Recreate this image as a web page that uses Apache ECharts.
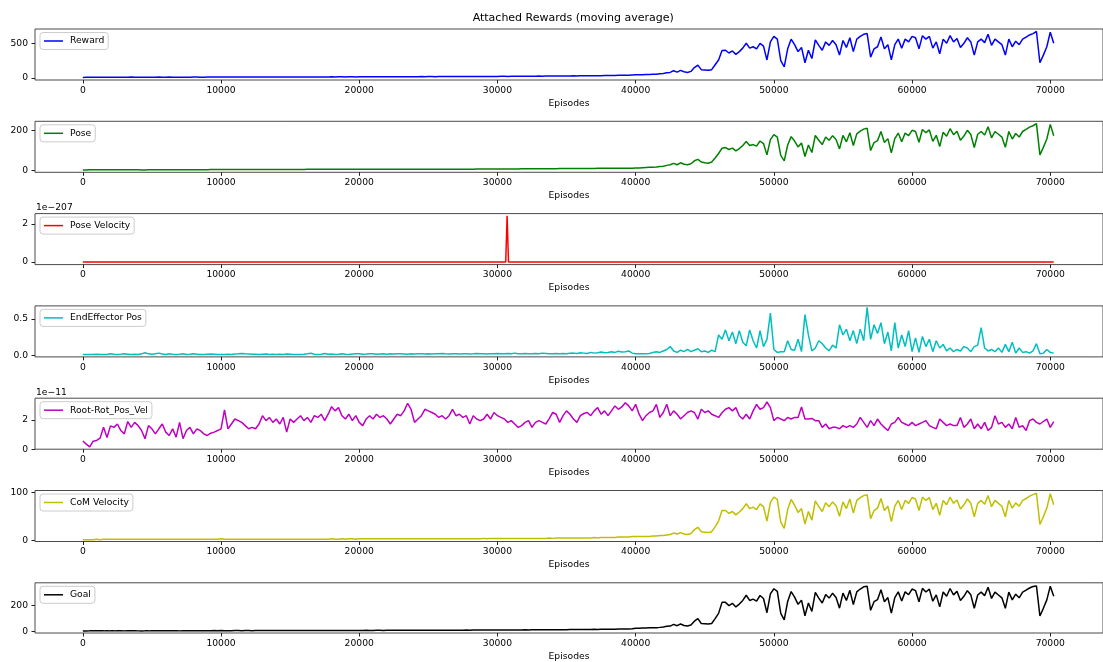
<!DOCTYPE html>
<html>
<head>
<meta charset="utf-8">
<title>Attached Rewards (moving average)</title>
<script src="https://cdn.jsdelivr.net/npm/echarts@6/dist/echarts.min.js"></script>
<style>
  html, body { margin: 0; padding: 0; background: #ffffff; }
  #chart { width: 1103px; height: 662px; }
</style>
</head>
<body>
<div id="chart"></div>
<script>
// Moving-average reward terms, sampled every EPISODE_STEP episodes.
const EPISODE_STEP = 250;
const TITLE = 'Attached Rewards (moving average)';
const X_LABEL = 'Episodes';
const X_TICKS = [0, 10000, 20000, 30000, 40000, 50000, 60000, 70000];

const rewardValues = [
  8, 9, 10, 10, 11, 10, 11, 12, 11, 11,
  12, 12, 11, 12, 13, 12, 11, 9, 10, 11,
  12, 12, 13, 12, 12, 13, 12, 12, 11, 12,
  12, 12, 13, 13, 12, 12, 13, 13, 14, 13,
  15, 13, 13, 13, 14, 14, 13, 14, 14, 13,
  14, 14, 15, 14, 14, 15, 15, 14, 15, 15,
  15, 15, 14, 15, 15, 16, 15, 14, 15, 16,
  16, 16, 17, 16, 17, 17, 16, 17, 17, 16,
  17, 17, 18, 17, 17, 18, 18, 17, 18, 18,
  18, 18, 19, 19, 18, 19, 19, 19, 20, 19,
  20, 20, 19, 20, 20, 21, 20, 21, 21, 21,
  21, 22, 21, 22, 22, 22, 23, 22, 23, 23,
  23, 24, 24, 23, 24, 25, 24, 25, 26, 25,
  26, 26, 27, 26, 27, 28, 27, 28, 29, 29,
  29, 30, 31, 30, 31, 32, 33, 33, 34, 33,
  34, 35, 36, 37, 36, 38, 39, 40, 41, 43,
  45, 45, 48, 50, 52, 55, 55, 60, 65, 75,
  80, 105, 85, 110, 90, 80, 95, 150, 185, 120,
  115, 110, 120, 190, 260, 395, 400, 360, 390, 340,
  380, 430, 500, 430, 450, 420, 500, 460, 260, 520,
  600, 560, 250, 160, 420, 560, 480, 380, 440, 220,
  400, 280, 550, 470, 400, 520, 470, 540, 480, 330,
  540, 440, 580, 380, 560, 600, 630, 640, 300, 420,
  450, 590, 420, 480, 260, 480, 560, 430, 560, 520,
  600, 580, 420, 610, 560, 600, 430, 520, 350, 560,
  500, 610, 520, 570, 440, 500, 580, 520, 330, 520,
  560, 510, 630, 470, 560, 520, 480, 330, 560, 450,
  530, 480, 560, 590, 620, 640, 670, 220, 330, 450,
  660, 500
];

const poseValues = [
  2, 2, 3, 3, 3, 3, 3, 3, 3, 3,
  3, 3, 3, 3, 3, 3, 3, 2, 2, 3,
  3, 3, 3, 3, 3, 3, 3, 3, 3, 3,
  3, 3, 3, 3, 3, 3, 3, 4, 4, 4,
  4, 4, 4, 4, 4, 4, 4, 4, 4, 4,
  4, 4, 4, 4, 4, 4, 4, 4, 4, 4,
  4, 4, 4, 4, 4, 5, 5, 5, 5, 5,
  5, 5, 5, 5, 5, 5, 5, 5, 5, 5,
  5, 5, 5, 5, 5, 5, 5, 5, 5, 5,
  5, 5, 5, 6, 6, 6, 6, 6, 6, 6,
  6, 6, 6, 6, 6, 6, 6, 6, 6, 6,
  6, 6, 6, 6, 7, 7, 7, 7, 7, 7,
  7, 7, 7, 7, 7, 7, 7, 8, 8, 8,
  8, 8, 8, 8, 8, 8, 8, 8, 9, 9,
  9, 9, 9, 9, 9, 9, 9, 9, 9, 10,
  10, 10, 10, 10, 10, 11, 11, 11, 11, 11,
  12, 12, 13, 14, 15, 16, 17, 19, 21, 25,
  28, 35, 28, 38, 31, 28, 33, 48, 55, 42,
  38, 36, 42, 62, 85, 112, 115, 105, 112, 98,
  110, 125, 145, 125, 130, 122, 148, 135, 78, 155,
  180, 168, 75, 48, 128, 170, 148, 118, 138, 70,
  128, 90, 176, 152, 130, 168, 152, 175, 156, 108,
  176, 144, 190, 125, 184, 198, 208, 212, 100, 140,
  150, 196, 140, 160, 88, 160, 188, 144, 188, 175,
  202, 196, 142, 206, 190, 204, 146, 177, 120, 192,
  172, 210, 180, 197, 152, 173, 202, 181, 115, 182,
  196, 178, 220, 164, 196, 182, 168, 116, 196, 158,
  186, 168, 196, 207, 218, 225, 236, 78, 116, 158,
  232, 175
];

// Pose velocity is shown in units of 1e-207 (the axis offset text).
const POSE_VELOCITY_SCALE = '1e\u2212207';
const poseVelocityEpisodes = [0, 30600, 30700, 30800, 70250];
const poseVelocityValues = [0, 0, 2.43, 0, 0];

const endEffectorValues = [
  .01, .01, .012, .01, .015, .01, .012, .01, .02, .015,
  .012, .015, .02, .015, .01, .015, .012, .02, .035, .02,
  .015, .02, .03, .018, .012, .02, .015, .012, .015, .02,
  .012, .015, .02, .015, .01, .012, .015, .018, .015, .01,
  .012, .01, .015, .012, .018, .02, .025, .02, .018, .015,
  .015, .012, .015, .018, .012, .015, .01, .015, .012, .018,
  .015, .012, .01, .012, .015, .02, .028, .015, .012, .015,
  .025, .015, .018, .012, .015, .02, .015, .012, .018, .02,
  .02, .015, .018, .022, .02, .015, .018, .02, .015, .02,
  .018, .022, .02, .018, .015, .02, .018, .022, .02, .018,
  .02, .018, .022, .02, .025, .02, .018, .022, .02, .018,
  .02, .022, .018, .02, .025, .022, .02, .018, .022, .02,
  .025, .02, .022, .025, .02, .03, .022, .02, .025, .022,
  .02, .025, .022, .03, .025, .02, .022, .025, .02, .025,
  .022, .028, .03, .025, .035, .03, .025, .04, .03, .035,
  .045, .035, .04, .05, .04, .055, .045, .05, .06, .03,
  .02, .02, .02, .02, .025, .04, .05, .04, .06, .08,
  .12, .06, .04, .07, .05, .08, .05, .07, .09, .05,
  .06, .04, .07, .05, .28, .22, .35, .2, .32, .16,
  .34, .18, .13, .35, .2, .1, .34, .12, .22, .58,
  .08, .04, .05, .05, .2, .08, .07, .22, .05, .56,
  .28, .06, .1, .2, .16, .1, .06, .14, .1, .42,
  .28, .36, .2, .34, .16, .36, .2, .66, .22, .42,
  .3, .45, .16, .32, .06, .45, .1, .28, .12, .34,
  .05, .24, .04, .26, .12, .22, .05, .2, .1, .15,
  .06, .1, .05, .08, .06, .12, .1, .05, .12, .14,
  .38, .1, .06, .08, .05, .1, .04, .15, .05, .18,
  .03, .1, .04, .05, .03, .06, .16, .02, .03, .08,
  .04, .03
];

// Root/rotation/position/velocity term, in units of 1e-11.
const ROOT_SCALE = '1e\u221211';
const rootRotPosVelValues = [
  0.56, 0.35, 0.16, 0.55, 0.6, 0.76, 1.5, 0.8, 1.6, 1.5,
  1.73, 1.28, 1.05, 1.9, 1.5, 1.84, 1.62, 1.28, 0.72, 1.62,
  1.4, 1.05, 1.4, 1.73, 1.17, 0.94, 1.4, 0.83, 1.84, 0.72,
  1.28, 1.5, 1.05, 1.4, 1.28, 1.05, 0.94, 1.1, 1.17, 1.28,
  1.4, 2.7, 1.4, 1.73, 2.07, 1.96, 1.84, 1.62, 1.4, 1.5,
  1.4, 1.73, 2.3, 1.96, 2.18, 1.84, 2.07, 1.73, 2.18, 1.17,
  2.07, 1.84, 2.07, 2.3, 1.96, 2.18, 1.84, 2.3, 2.18, 2.4,
  1.96, 2.4, 2.92, 2.63, 2.85, 2.3, 2.07, 2.4, 1.96, 2.3,
  1.84, 1.62, 2.07, 2.3, 2.07, 2.4, 2.18, 2.3, 2.07, 1.73,
  2.07, 2.4, 2.3, 2.63, 3.15, 2.74, 1.84, 2.07, 2.3, 2.74,
  2.63, 2.52, 2.4, 2.18, 2.3, 2.07, 2.3, 2.74, 2.3, 2.4,
  2.18, 2.3, 1.73, 2.3, 2.07, 1.96, 2.07, 2.4, 2.07, 2.52,
  2.3, 2.18, 2.07, 1.84, 1.96, 1.73, 1.5, 1.62, 1.84, 1.96,
  1.5, 1.84, 1.96, 1.84, 1.73, 2.1, 2.52, 2.4, 1.84, 2.3,
  2.63, 2.4, 2.07, 1.84, 2.3, 2.45, 2.52, 2.3, 2.63, 2.85,
  2.4, 2.63, 2.3, 2.63, 2.97, 2.74, 2.9, 3.19, 2.97, 2.63,
  3.08, 2.4, 1.96, 2.3, 2.52, 2.63, 3.08, 2.18, 2.52, 3.08,
  2.3, 2.63, 2.4, 2.07, 2.3, 2.52, 2.63, 2.52, 2.07, 2.74,
  2.52, 2.63, 2.4, 2.3, 2.18, 2.5, 2.74, 2.85, 2.63, 2.85,
  2.3, 2.07, 2.4, 2.07, 2.63, 3.08, 2.74, 2.85, 3.24, 2.85,
  1.96, 2.18, 2.07, 1.96, 2.18, 2.07, 2.18, 2.18, 2.9, 2.07,
  2.07, 2.11, 1.96, 1.96, 1.5, 1.73, 1.4, 1.5, 1.5, 1.4,
  1.62, 1.5, 1.62, 1.5, 1.73, 2.18, 1.84, 1.5, 1.96, 1.62,
  2.07, 1.73, 1.5, 1.28, 1.73, 1.84, 2.18, 1.84, 1.73, 1.62,
  1.84, 1.62, 1.73, 1.84, 1.96, 1.62, 1.5, 1.4, 2.07, 1.84,
  1.62, 1.73, 1.62, 1.62, 2.18, 1.5, 1.73, 2.07, 1.4, 1.73,
  1.4, 1.84, 1.28, 1.5, 2.3, 1.73, 1.84, 1.5, 1.73, 1.4,
  2.18, 1.5, 1.62, 1.28, 1.96, 2.07, 1.84, 1.73, 1.9, 2.07,
  1.5, 1.89
];

const comVelocityValues = [
  1, 1, 1, 1, 2, 1, 2, 2, 2, 2,
  2, 2, 2, 2, 2, 2, 2, 2, 2, 2,
  2, 2, 2, 2, 2, 2, 2, 2, 2, 2,
  2, 2, 2, 2, 2, 2, 2, 2, 2, 2,
  3, 2, 2, 2, 2, 2, 2, 2, 2, 2,
  2, 2, 2, 2, 2, 2, 2, 2, 2, 2,
  2, 2, 2, 2, 2, 2, 2, 2, 2, 2,
  2, 2, 3, 2, 2, 3, 2, 3, 3, 2,
  3, 3, 3, 3, 3, 3, 3, 3, 3, 3,
  3, 3, 3, 3, 3, 3, 3, 3, 3, 3,
  3, 3, 3, 3, 3, 3, 3, 3, 3, 3,
  3, 3, 3, 3, 3, 3, 4, 3, 4, 4,
  4, 4, 4, 4, 4, 4, 4, 4, 4, 4,
  4, 4, 4, 4, 4, 5, 4, 5, 5, 5,
  5, 5, 5, 5, 5, 5, 5, 5, 6, 5,
  6, 6, 6, 6, 6, 7, 7, 7, 7, 8,
  8, 8, 8, 8, 8, 9, 9, 10, 10, 11,
  12, 15, 13, 16, 13, 12, 14, 22, 27, 18,
  17, 16, 18, 28, 40, 62, 62, 56, 60, 53,
  59, 66, 76, 66, 69, 64, 76, 70, 40, 79,
  90, 85, 38, 25, 64, 85, 73, 58, 66, 34,
  60, 42, 82, 70, 60, 78, 70, 80, 72, 50,
  80, 66, 86, 57, 83, 89, 93, 95, 45, 62,
  67, 87, 62, 71, 39, 71, 83, 64, 83, 77,
  89, 86, 62, 90, 83, 89, 64, 77, 52, 83,
  74, 90, 77, 84, 65, 74, 86, 77, 49, 77,
  83, 75, 93, 70, 83, 77, 71, 49, 83, 67,
  78, 71, 83, 87, 92, 95, 98, 33, 49, 67,
  97, 74
];

const goalValues = [
  4, 4, 5, 5, 5, 5, 5, 6, 5, 5,
  6, 6, 5, 6, 6, 6, 5, 4, 5, 5,
  6, 6, 6, 6, 6, 6, 6, 6, 5, 6,
  6, 6, 6, 6, 6, 6, 6, 6, 7, 6,
  7, 6, 6, 6, 7, 7, 6, 7, 7, 6,
  7, 7, 7, 7, 7, 7, 7, 7, 7, 7,
  7, 7, 7, 7, 7, 8, 7, 7, 7, 8,
  8, 8, 8, 8, 8, 8, 8, 8, 8, 8,
  8, 8, 9, 8, 8, 9, 9, 8, 9, 9,
  9, 9, 9, 9, 9, 9, 9, 9, 10, 9,
  10, 10, 9, 10, 10, 10, 10, 10, 10, 10,
  10, 11, 10, 11, 11, 11, 11, 11, 11, 11,
  11, 12, 12, 11, 12, 12, 12, 12, 13, 12,
  13, 13, 13, 13, 13, 14, 13, 14, 14, 14,
  14, 15, 15, 15, 15, 16, 16, 16, 17, 16,
  17, 17, 18, 18, 18, 19, 19, 20, 20, 21,
  25, 25, 27, 28, 29, 30, 30, 32, 35, 40,
  42, 55, 45, 58, 47, 42, 50, 80, 100, 62,
  60, 58, 62, 100, 140, 225, 225, 200, 218, 190,
  212, 240, 280, 240, 250, 235, 278, 255, 145, 290,
  330, 310, 140, 90, 232, 308, 265, 210, 242, 122,
  220, 155, 302, 258, 220, 285, 258, 296, 263, 180,
  296, 240, 318, 208, 306, 328, 345, 350, 164, 230,
  246, 322, 230, 262, 142, 262, 306, 235, 306, 284,
  328, 316, 230, 333, 305, 327, 234, 283, 190, 305,
  272, 332, 283, 310, 240, 272, 315, 283, 180, 282,
  304, 277, 342, 255, 304, 282, 260, 179, 304, 244,
  288, 260, 304, 320, 336, 347, 352, 120, 179, 244,
  350, 272
];

const episodes = rewardValues.map((_, i) => i * EPISODE_STEP);

// ---- figure layout ----
const FONT = 'DejaVu Sans';
const TICK_FONT_SIZE = 9.2;
const GRID_LEFT = 35;
const GRID_WIDTH = 1076.5;
const GRID_TOP = 29;
const GRID_STEP = 92.3;
const GRID_HEIGHT = 51;
const X_MIN = -3460;
const X_MAX = 73815;

const PANELS = [
  { name: 'Reward', color: '#0000ff', x: episodes, y: rewardValues, yMin: -29, yMax: 706, ticks: [0, 500] },
  { name: 'Pose', color: '#008000', x: episodes, y: poseValues, yMin: -10, yMax: 247.5, ticks: [0, 200] },
  { name: 'Pose Velocity', color: '#ff0000', x: poseVelocityEpisodes, y: poseVelocityValues, yMin: -0.14, yMax: 2.55, ticks: [0, 2], offset: POSE_VELOCITY_SCALE },
  { name: 'EndEffector Pos', color: '#00bfbf', x: episodes, y: endEffectorValues, yMin: -0.022, yMax: 0.68, ticks: [0, 0.5], digits: 1 },
  { name: 'Root-Rot_Pos_Vel', color: '#bf00bf', x: episodes, y: rootRotPosVelValues, yMin: 0, yMax: 3.5, ticks: [0, 2], offset: ROOT_SCALE },
  { name: 'CoM Velocity', color: '#bfbf00', x: episodes, y: comVelocityValues, yMin: -2.5, yMax: 103.7, ticks: [0, 100] },
  { name: 'Goal', color: '#000000', x: episodes, y: goalValues, yMin: -11.4, yMax: 376, ticks: [0, 200] }
];

const textBase = { fontFamily: FONT, fontSize: TICK_FONT_SIZE, color: '#000000' };
const grids = [], xAxes = [], yAxes = [], series = [], legends = [];

PANELS.forEach((p, i) => {
  const top = GRID_TOP + i * GRID_STEP;
  grids.push({
    left: GRID_LEFT, top: top, width: GRID_WIDTH, height: GRID_HEIGHT,
    show: true, borderColor: '#4a4a4a', borderWidth: 1, backgroundColor: 'transparent'
  });
  xAxes.push({
    gridIndex: i, type: 'value', min: X_MIN, max: X_MAX, position: 'bottom',
    name: X_LABEL, nameLocation: 'middle', nameGap: 19,
    nameTextStyle: textBase,
    axisLine: { show: false, onZero: false },
    splitLine: { show: false },
    axisTick: { show: true, length: 3.5, customValues: X_TICKS, lineStyle: { color: '#222222', width: 1 } },
    axisLabel: { customValues: X_TICKS, margin: 6, ...textBase, formatter: v => String(v) }
  });
  yAxes.push({
    gridIndex: i, type: 'value', min: p.yMin, max: p.yMax, position: 'left',
    name: p.offset || '', nameLocation: 'end', nameGap: 1,
    nameTextStyle: { ...textBase, align: 'left', verticalAlign: 'bottom', padding: [0, 0, 0, 1] },
    axisLine: { show: false, onZero: false },
    splitLine: { show: false },
    axisTick: { show: true, length: 3.5, customValues: p.ticks, lineStyle: { color: '#222222', width: 1 } },
    axisLabel: {
      customValues: p.ticks, margin: 7, ...textBase,
      formatter: v => (p.digits ? Number(v).toFixed(p.digits) : String(v))
    }
  });
  series.push({
    type: 'line', name: p.name, xAxisIndex: i, yAxisIndex: i,
    data: p.x.map((e, k) => [e, p.y[k]]),
    showSymbol: false, symbol: 'none', silent: true,
    lineStyle: { color: p.color, width: 1.5 },
    itemStyle: { color: p.color },
    emphasis: { disabled: true }
  });
  legends.push({
    data: [p.name], left: GRID_LEFT + 5, top: top + 3.5,
    icon: 'rect', itemWidth: 19, itemHeight: 1.5,
    padding: [4, 4, 4, 4],
    backgroundColor: 'rgba(255,255,255,0.8)',
    borderColor: '#cccccc', borderWidth: 1, borderRadius: 3,
    selectedMode: false,
    textStyle: { ...textBase, padding: [0, 0, 0, 2] }
  });
});

const chart = echarts.init(document.getElementById('chart'), null, { renderer: 'canvas' });
chart.setOption({
  animation: false,
  backgroundColor: '#ffffff',
  title: {
    text: TITLE, left: GRID_LEFT + GRID_WIDTH / 2, top: 12.5, textAlign: 'center', padding: 0,
    textStyle: { fontFamily: FONT, fontSize: 11, fontWeight: 'normal', color: '#000000' }
  },
  tooltip: { show: false },
  legend: legends,
  grid: grids,
  xAxis: xAxes,
  yAxis: yAxes,
  series: series
});
</script>
</body>
</html>
